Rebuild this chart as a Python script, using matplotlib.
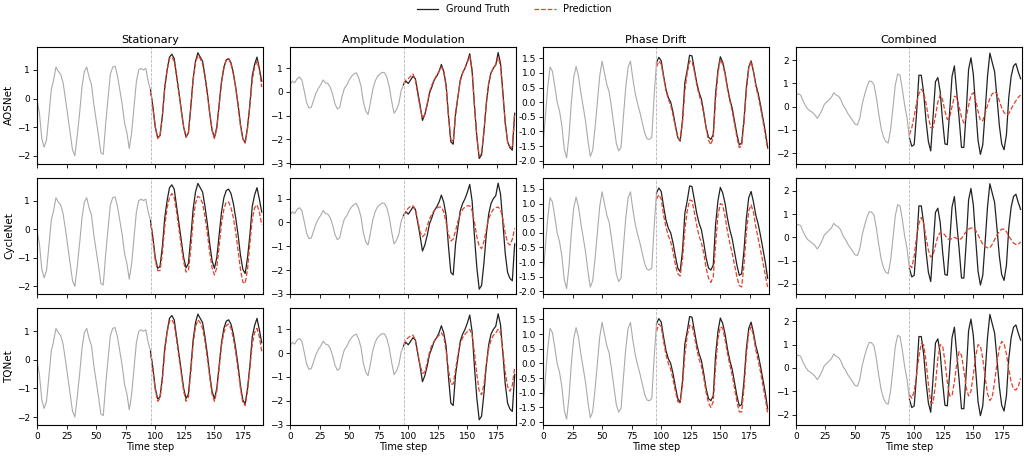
import matplotlib.pyplot as plt
import numpy as np
from matplotlib.ticker import MultipleLocator, FormatStrFormatter

# time axis (sampled every 2 steps), history = first 96 steps, horizon = next 96
t = np.arange(0, 192, 2)
t_future = np.arange(96, 192, 2)

columns = ['Stationary', 'Amplitude Modulation', 'Phase Drift', 'Combined']
models = ['AOSNet', 'CycleNet', 'TQNet']

# ---------------------------------------------------------------- ground truth
stationary_gt = [
    -0.05, -0.5, -1.4, -1.7, -1.45, -0.6, 0.3, 0.65, 1.1, 0.95, 0.85, 0.55, 0.0, -0.6, -1.2, -1.8,
    -2.0, -1.3, -0.5, 0.4, 0.95, 1.1, 0.75, 0.5, -0.2, -0.75, -1.3, -1.9, -1.95, -0.9, 0.0, 0.85,
    1.1, 1.13, 0.8, 0.3, -0.2, -0.85, -1.2, -1.75, -1.2, -0.3, 0.6, 1.0, 1.05, 1.0, 1.05, 0.6,
    0.3, -0.3, -1.0, -1.37, -1.3, -0.6, 0.4, 1.0, 1.45, 1.55, 1.4, 0.8, 0.2, -0.4, -1.0, -1.35,
    -1.2, -0.3, 0.7, 1.3, 1.6, 1.45, 1.3, 0.8, 0.2, -0.5, -1.1, -1.37, -1.0, -0.2, 0.6, 1.1,
    1.35, 1.4, 1.25, 0.9, 0.4, -0.2, -0.9, -1.4, -1.55, -1.0, -0.2, 0.8, 1.2, 1.45, 1.05, 0.6]
amplitude_gt = [
    0.3, 0.45, 0.38, 0.55, 0.62, 0.5, 0.05, -0.45, -0.68, -0.65, -0.35, -0.05, 0.15, 0.3, 0.5, 0.38,
    0.35, 0.2, -0.1, -0.5, -0.72, -0.65, -0.2, 0.15, 0.28, 0.5, 0.65, 0.75, 0.8, 0.6, 0.25, -0.42,
    -0.8, -0.95, -0.45, 0.1, 0.45, 0.65, 0.75, 0.82, 0.8, 0.6, 0.2, -0.4, -0.9, -0.75, -0.5, 0.05,
    0.3, 0.45, 0.35, 0.5, 0.65, 0.55, 0.0, -0.56, -1.2, -0.95, -0.55, -0.05, 0.21, 0.5, 0.65, 0.85,
    1.15, 0.85, 0.3, -1.0, -2.1, -2.2, -0.9, -0.2, 0.5, 0.8, 1.0, 1.27, 1.6, 0.9, -0.6, -1.9,
    -2.8, -2.65, -1.7, -0.5, 0.35, 0.8, 1.0, 1.13, 1.65, 1.2, 0.0, -1.3, -2.1, -2.35, -2.45, -0.9]
phase_gt = [
    -1.5, -0.5, 0.5, 1.2, 1.05, 0.55, 0.0, -0.3, -0.8, -1.6, -1.9, -1.15, 0.0, 0.85, 1.22, 0.9,
    0.33, -0.15, -0.65, -1.3, -1.85, -1.65, -0.9, 0.0, 0.9, 1.4, 1.0, 0.6, 0.35, -0.2, -0.8, -1.4,
    -1.66, -1.55, -0.5, 0.5, 1.2, 1.4, 0.8, 0.3, -0.05, -0.35, -0.7, -1.05, -1.25, -1.27, -1.2, 0.2,
    1.36, 1.53, 1.41, 0.9, 0.44, 0.16, 0.0, -0.35, -0.8, -1.2, -1.33, -0.6, 0.67, 1.1, 1.6, 1.58,
    1.13, 0.67, 0.33, 0.1, -0.35, -0.87, -1.2, -1.27, -1.1, 0.3, 1.1, 1.55, 1.36, 1.0, 0.5, 0.1,
    -0.2, -0.65, -1.1, -1.45, -1.4, -0.6, 0.5, 1.2, 1.41, 1.05, 0.6, 0.3, -0.1, -0.55, -1.0, -1.55]
combined_gt = [
    0.5, 0.55, 0.5, 0.25, 0.05, -0.1, -0.18, -0.25, -0.35, -0.5, -0.35, -0.15, 0.1, 0.2, 0.3, 0.4,
    0.6, 0.5, 0.45, 0.3, 0.05, -0.1, -0.3, -0.45, -0.6, -0.75, -0.78, -0.5, 0.1, 0.5, 0.85, 1.1,
    1.08, 0.95, 0.4, -0.3, -0.92, -1.3, -1.5, -1.56, -1.0, -0.07, 0.92, 1.4, 1.35, 0.75, 0.05, -0.5,
    -1.35, -1.7, -1.63, -0.3, 1.35, 1.35, 0.6, -0.6, -1.5, -1.9, -0.4, 1.07, 1.25, 0.64, -0.6, -1.6,
    -1.63, -0.21, 1.3, 1.75, 0.6, -0.5, -1.75, -1.75, -0.21, 1.6, 2.1, 1.4, -0.07, -1.45, -2.05, -1.63,
    -0.21, 1.3, 2.3, 1.9, 1.5, 0.4, -0.8, -1.6, -1.85, -1.2, 0.4, 1.3, 1.75, 1.85, 1.5, 1.2]

# ---------------------------------------------------------------- predictions
stationary_aosnet = [
    0.25, -0.35, -1.0, -1.4, -1.3, -0.6, 0.35, 1.0, 1.4, 1.45, 1.3, 0.8, 0.2, -0.45, -1.0, -1.35,
    -1.2, -0.35, 0.65, 1.25, 1.5, 1.4, 1.2, 0.75, 0.15, -0.5, -1.1, -1.4, -1.05, -0.25, 0.55, 1.05,
    1.35, 1.4, 1.2, 0.85, 0.35, -0.25, -0.95, -1.4, -1.55, -1.05, -0.25, 0.65, 1.1, 1.3, 1.0, 0.4]
stationary_cyclenet = [
    0.2, -0.4, -1.1, -1.45, -1.45, -0.85, 0.1, 0.75, 1.1, 1.25, 1.1, 0.6, 0.0, -0.6, -1.15, -1.5,
    -1.45, -0.7, 0.3, 0.9, 1.15, 1.1, 0.9, 0.45, -0.15, -0.8, -1.35, -1.6, -1.35, -0.6, 0.2, 0.7,
    0.95, 0.95, 0.75, 0.4, -0.1, -0.75, -1.4, -1.85, -1.9, -1.4, -0.5, 0.35, 0.75, 0.85, 0.6, 0.15]
stationary_tqnet = [
    0.2, -0.4, -1.05, -1.45, -1.35, -0.7, 0.3, 0.95, 1.35, 1.4, 1.25, 0.7, 0.1, -0.5, -1.1, -1.45,
    -1.3, -0.45, 0.55, 1.15, 1.4, 1.3, 1.1, 0.65, 0.05, -0.6, -1.2, -1.45, -1.1, -0.3, 0.5, 0.95,
    1.2, 1.25, 1.1, 0.75, 0.25, -0.35, -1.0, -1.5, -1.6, -1.1, -0.3, 0.55, 0.95, 1.1, 0.8, 0.3]

amplitude_aosnet = [
    0.35, 0.5, 0.55, 0.65, 0.75, 0.5, -0.1, -0.65, -1.1, -0.95, -0.5, 0.0, 0.3, 0.5, 0.7, 0.85,
    1.05, 0.85, 0.2, -1.0, -2.0, -2.1, -1.0, -0.2, 0.45, 0.8, 1.0, 1.25, 1.5, 0.85, -0.6, -1.9,
    -2.7, -2.6, -1.6, -0.5, 0.35, 0.8, 1.0, 1.15, 1.45, 1.1, -0.1, -1.3, -2.1, -2.3, -2.35, -0.9]
amplitude_cyclenet = [
    0.3, 0.45, 0.6, 0.68, 0.7, 0.55, 0.1, -0.4, -0.6, -0.5, -0.15, 0.15, 0.35, 0.5, 0.6, 0.65,
    0.65, 0.45, 0.0, -0.5, -0.78, -0.7, -0.35, 0.05, 0.35, 0.55, 0.65, 0.7, 0.7, 0.5, 0.0, -0.6,
    -1.0, -1.1, -0.8, -0.3, 0.15, 0.4, 0.55, 0.62, 0.65, 0.55, 0.15, -0.45, -0.85, -0.95, -0.7, -0.25]
amplitude_tqnet = [
    0.35, 0.55, 0.65, 0.72, 0.75, 0.55, 0.0, -0.5, -0.85, -0.8, -0.4, 0.05, 0.35, 0.5, 0.65, 0.75,
    0.85, 0.7, 0.1, -0.7, -1.3, -1.3, -0.7, -0.05, 0.4, 0.65, 0.8, 0.9, 1.0, 0.75, 0.0, -0.9,
    -1.6, -1.75, -1.3, -0.5, 0.2, 0.55, 0.75, 0.85, 1.0, 0.85, 0.1, -0.8, -1.4, -1.6, -1.35, -0.6]

phase_aosnet = [
    1.2, 1.4, 1.3, 0.85, 0.4, 0.1, -0.1, -0.45, -0.85, -1.2, -1.3, -0.7, 0.4, 1.0, 1.4, 1.4,
    1.05, 0.6, 0.25, 0.0, -0.4, -0.9, -1.3, -1.45, -1.2, 0.1, 1.0, 1.45, 1.3, 0.95, 0.45, 0.05,
    -0.3, -0.75, -1.2, -1.55, -1.5, -0.7, 0.4, 1.15, 1.4, 1.05, 0.55, 0.2, -0.2, -0.65, -1.1, -1.6]
phase_cyclenet = [
    1.15, 1.3, 1.15, 0.6, 0.2, -0.1, -0.3, -0.65, -1.1, -1.4, -1.47, -0.9, 0.1, 0.75, 1.12, 1.1,
    0.7, 0.25, -0.1, -0.35, -0.7, -1.2, -1.55, -1.69, -1.5, -0.4, 0.6, 1.0, 0.95, 0.55, 0.05, -0.35,
    -0.7, -1.1, -1.5, -1.8, -1.85, -1.1, 0.0, 0.75, 0.95, 0.7, 0.2, -0.2, -0.6, -1.0, -1.45, -1.85]
phase_tqnet = [
    1.1, 1.35, 1.25, 0.75, 0.3, 0.0, -0.2, -0.55, -0.95, -1.3, -1.35, -0.75, 0.3, 0.95, 1.3, 1.3,
    0.95, 0.5, 0.15, -0.1, -0.5, -1.0, -1.35, -1.5, -1.3, -0.1, 0.85, 1.25, 1.2, 0.8, 0.35, -0.05,
    -0.4, -0.85, -1.3, -1.65, -1.65, -0.85, 0.3, 1.05, 1.25, 0.95, 0.45, 0.1, -0.3, -0.75, -1.2, -1.7]

combined_aosnet = [
    -1.2, -0.9, -0.4, 0.15, 0.55, 0.75, 0.6, 0.15, -0.45, -0.9, -0.9, -0.4, 0.2, 0.5, 0.3, -0.2,
    -0.55, -0.45, 0.0, 0.45, 0.4, 0.0, -0.45, -0.7, -0.45, 0.05, 0.5, 0.6, 0.3, -0.2, -0.6, -0.6,
    -0.3, 0.05, 0.35, 0.55, 0.64, 0.55, 0.25, -0.05, -0.25, -0.35, -0.3, -0.1, 0.1, 0.25, 0.4, 0.5]
combined_cyclenet = [
    -1.2, -1.3, -0.8, 0.0, 0.6, 0.85, 0.6, 0.0, -0.55, -0.85, -0.75, -0.35, 0.05, 0.2, 0.2, 0.1,
    -0.05, -0.1, -0.05, 0.0, -0.05, -0.1, -0.05, 0.1, 0.25, 0.35, 0.4, 0.4, 0.3, 0.1, -0.1, -0.3,
    -0.4, -0.45, -0.45, -0.3, -0.1, 0.1, 0.25, 0.35, 0.35, 0.25, 0.05, -0.1, -0.25, -0.3, -0.3, -0.2]
combined_tqnet = [
    -1.15, -1.3, -1.0, -0.3, 0.5, 1.05, 1.0, 0.3, -0.7, -1.5, -1.5, -0.7, 0.4, 1.0, 0.95, 0.3,
    -0.6, -1.2, -1.2, -0.6, 0.2, 0.7, 0.55, -0.1, -0.85, -1.2, -1.0, -0.3, 0.5, 1.0, 0.95, 0.4,
    -0.4, -1.1, -1.4, -1.25, -0.6, 0.2, 0.85, 1.14, 1.05, 0.6, -0.05, -0.6, -0.9, -0.95, -0.8, -0.45]

gt_series = [stationary_gt, amplitude_gt, phase_gt, combined_gt]
pred_series = [
    [stationary_aosnet, stationary_cyclenet, stationary_tqnet],
    [amplitude_aosnet, amplitude_cyclenet, amplitude_tqnet],
    [phase_aosnet, phase_cyclenet, phase_tqnet],
    [combined_aosnet, combined_cyclenet, combined_tqnet],
]
col_ylims = [(-2.28, 1.8), (-3.02, 1.88), (-2.1, 1.88), (-2.45, 2.56)]

hist_color = '#aaaaaa'
gt_color = '#222222'
pred_color = '#e0402a'

fig, axes = plt.subplots(3, 4, figsize=(10.29, 4.57), dpi=100, sharex=True, sharey='col')
fig.subplots_adjust(left=0.036, right=0.993, top=0.897, bottom=0.07, wspace=0.12, hspace=0.12)

for j, col in enumerate(columns):
    gt = np.array(gt_series[j])
    hist_mask = t <= 96
    fut_mask = t >= 96
    for i, model in enumerate(models):
        ax = axes[i, j]
        ax.plot(t[hist_mask], gt[hist_mask], color=hist_color, lw=0.8)
        ax.plot(t[fut_mask], gt[fut_mask], color=gt_color, lw=0.9, label='Ground Truth')
        ax.plot(t_future, pred_series[j][i], color=pred_color, lw=0.9, ls='--', label='Prediction')
        ax.axvline(96, color='#b5b5b5', ls='--', lw=0.6)
        ax.set_xlim(0, 191)
        ax.set_ylim(*col_ylims[j])
        ax.tick_params(labelsize=6.5, length=3, width=0.6, pad=2)
        for s in ax.spines.values():
            s.set_linewidth(0.8)
        if columns[j] == 'Phase Drift':
            ax.yaxis.set_major_locator(MultipleLocator(0.5))
            ax.yaxis.set_major_formatter(FormatStrFormatter('%.1f'))
        else:
            ax.yaxis.set_major_locator(MultipleLocator(1))
        if i == 0:
            ax.set_title(col, fontsize=8, pad=3)
        if j == 0:
            ax.set_ylabel(model, fontsize=7.5, labelpad=2)
        if i == 2:
            ax.set_xlabel('Time step', fontsize=7, labelpad=1)
            ax.set_xticks([0, 25, 50, 75, 100, 125, 150, 175])

handles, labels = axes[0, 0].get_legend_handles_labels()
fig.legend(handles, labels, loc='upper center', ncol=2, frameon=False, fontsize=7,
           bbox_to_anchor=(0.5, 1.01), handlelength=2.2, columnspacing=2.5)

plt.savefig('out.png', dpi=100)
